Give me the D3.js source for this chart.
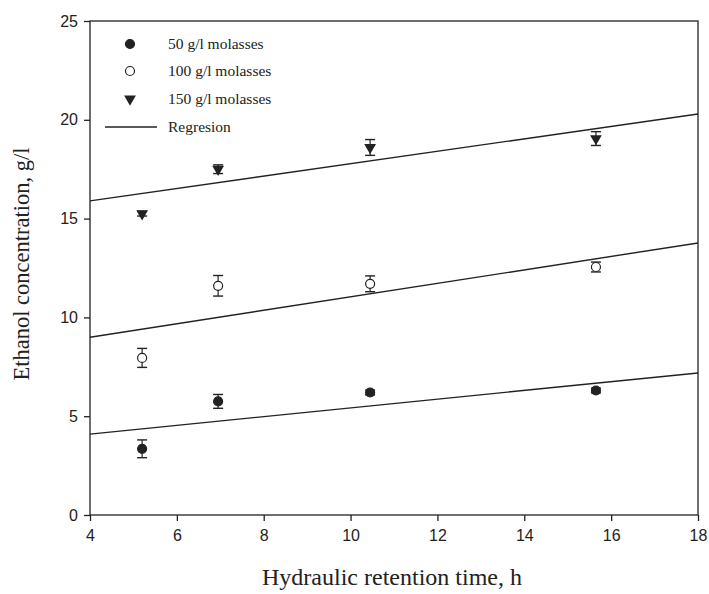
<!DOCTYPE html>
<html>
<head>
<meta charset="utf-8">
<script src="https://cdn.jsdelivr.net/npm/d3@7"></script>
<style>
	body { margin: 0; background: #fff; }
	.tick text { font-family: "Liberation Sans", Arial, sans-serif; font-size: 16px; fill: #222; }
	.axis-title { font-family: "Liberation Serif", "Times New Roman", serif; fill: #222; }
	.legend-text { font-family: "Liberation Serif", "Times New Roman", serif; font-size: 15.5px; fill: #222; }
</style>
</head>
<body>
<div id="chart"></div>
<script>
// hydraulic retention time, h
let hrt = [5.2, 6.95, 10.45, 15.65];

let series_names = ["50 g/l molasses", "100 g/l molasses", "150 g/l molasses"];
let conc_50 = [3.35, 5.75, 6.2, 6.3];
let err_50 = [0.45, 0.35, 0.12, 0.12];
let conc_100 = [7.95, 11.6, 11.7, 12.55];
let err_100 = [0.48, 0.52, 0.4, 0.25];
let conc_150 = [15.25, 17.5, 18.6, 19.05];
let err_150 = [0.12, 0.22, 0.4, 0.35];

// regression lines: y = a + b * x
let reg_intercept = [3.21, 7.63, 14.64];
let reg_slope = [0.221, 0.341, 0.314];

let x_ticks = [4, 6, 8, 10, 12, 14, 16, 18];
let y_ticks = [0, 5, 10, 15, 20, 25];

let width = 709;
let height = 594;
let margin = { top: 21, right: 11, bottom: 79, left: 90 };

let x = d3.scaleLinear().domain([4, 18]).range([margin.left, width - margin.right]);
let y = d3.scaleLinear().domain([0, 25]).range([height - margin.bottom, margin.top]);

let svg = d3
	.select("#chart")
	.append("svg")
	.attr("width", width)
	.attr("height", height);

let ink = "#222";

// frame
svg.append("rect")
	.attr("x", x(4))
	.attr("y", y(25))
	.attr("width", x(18) - x(4))
	.attr("height", y(0) - y(25))
	.attr("fill", "none")
	.attr("stroke", ink)
	.attr("stroke-width", 1.3);

svg.append("g")
	.attr("transform", "translate(0," + y(0) + ")")
	.call(d3.axisBottom(x).tickValues(x_ticks).tickSizeInner(6).tickSizeOuter(0).tickPadding(9))
	.call((g) => g.select(".domain").remove())
	.call((g) => g.selectAll(".tick line").attr("stroke", ink).attr("stroke-width", 1.3));

svg.append("g")
	.attr("transform", "translate(" + x(4) + ",0)")
	.call(d3.axisLeft(y).tickValues(y_ticks).tickSizeInner(6).tickSizeOuter(0).tickPadding(6))
	.call((g) => g.select(".domain").remove())
	.call((g) => g.selectAll(".tick line").attr("stroke", ink).attr("stroke-width", 1.3));

// axis titles
svg.append("text")
	.attr("class", "axis-title")
	.attr("x", 392)
	.attr("y", 585)
	.attr("text-anchor", "middle")
	.style("font-size", "24px")
	.text("Hydraulic retention time, h");

svg.append("text")
	.attr("class", "axis-title")
	.attr("transform", "translate(29," + y(12.7) + ") rotate(-90)")
	.attr("text-anchor", "middle")
	.style("font-size", "22.5px")
	.text("Ethanol concentration, g/l");

// regression lines
let clip_x = [4, 18];
svg.selectAll(".reg")
	.data(reg_intercept)
	.enter()
	.append("line")
	.attr("x1", x(clip_x[0]))
	.attr("x2", x(clip_x[1]))
	.attr("y1", (d, i) => y(d + reg_slope[i] * clip_x[0]))
	.attr("y2", (d, i) => y(d + reg_slope[i] * clip_x[1]))
	.attr("stroke", ink)
	.attr("stroke-width", 1.4);

let series = [
	{ vals: conc_50, errs: err_50, shape: "filled" },
	{ vals: conc_100, errs: err_100, shape: "open" },
	{ vals: conc_150, errs: err_150, shape: "tri" },
];

let tri = d3.symbol().type(d3.symbolTriangle).size(60);

function drawMarker(g, shape) {
	if (shape === "tri") {
		g.append("path").attr("d", tri()).attr("transform", "rotate(180)").attr("fill", ink);
	} else {
		g.append("circle")
			.attr("r", 4.5)
			.attr("fill", shape === "filled" ? ink : "#fff")
			.attr("stroke", ink)
			.attr("stroke-width", 1.2);
	}
}

let cap = 5;
series.forEach((s) => {
	let pts = hrt.map((h, i) => ({ h: h, v: s.vals[i], e: s.errs[i] }));
	let grp = svg.append("g");
	let eb = grp.selectAll(".eb").data(pts).enter().append("g");
	eb.append("line")
		.attr("x1", (d) => x(d.h)).attr("x2", (d) => x(d.h))
		.attr("y1", (d) => y(d.v - d.e)).attr("y2", (d) => y(d.v + d.e))
		.attr("stroke", ink).attr("stroke-width", 1.2);
	eb.append("line")
		.attr("x1", (d) => x(d.h) - cap).attr("x2", (d) => x(d.h) + cap)
		.attr("y1", (d) => y(d.v + d.e)).attr("y2", (d) => y(d.v + d.e))
		.attr("stroke", ink).attr("stroke-width", 1.4);
	eb.append("line")
		.attr("x1", (d) => x(d.h) - cap).attr("x2", (d) => x(d.h) + cap)
		.attr("y1", (d) => y(d.v - d.e)).attr("y2", (d) => y(d.v - d.e))
		.attr("stroke", ink).attr("stroke-width", 1.4);
	grp.selectAll(".pt")
		.data(pts)
		.enter()
		.append("g")
		.attr("transform", (d) => "translate(" + x(d.h) + "," + y(d.v) + ")")
		.each(function () { drawMarker(d3.select(this), s.shape); });
});

// legend
let legend = svg.append("g");
let legend_rows = [44, 71, 99];
series.forEach((s, i) => {
	let g = legend.append("g").attr("transform", "translate(130," + legend_rows[i] + ")");
	drawMarker(g, s.shape);
	legend.append("text")
		.attr("class", "legend-text")
		.attr("x", 168)
		.attr("y", legend_rows[i] + 5)
		.text(series_names[i]);
});
legend.append("line")
	.attr("x1", 105).attr("x2", 157)
	.attr("y1", 127).attr("y2", 127)
	.attr("stroke", ink).attr("stroke-width", 1.3);
legend.append("text")
	.attr("class", "legend-text")
	.attr("x", 168)
	.attr("y", 132)
	.text("Regresion");
</script>
</body>
</html>
